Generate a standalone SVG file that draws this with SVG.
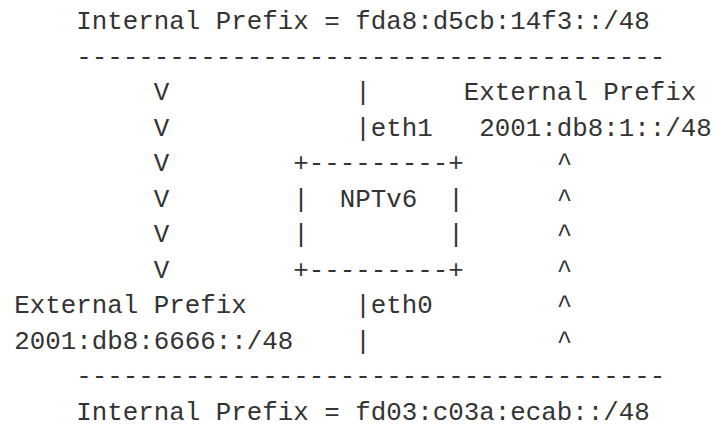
<svg xmlns="http://www.w3.org/2000/svg" width="720" height="427" viewBox="0 0 720 427" xml:space="preserve">
<style>
text { font-family: "Liberation Mono", "DejaVu Sans Mono", monospace; font-size: 25.83px; fill: #333; white-space: pre; }
</style>
<rect width="720" height="427" fill="#fff"/>
<g id="internal-top">
<text x="76.25" y="29">Internal Prefix = fda8:d5cb:14f3::/48</text>
<text x="76.25" y="64.5">--------------------------------------</text>
</g>
<g id="internal-bottom">
<text x="76.25" y="384">--------------------------------------</text>
<text x="76.25" y="419.5">Internal Prefix = fd03:c03a:ecab::/48</text>
</g>
<g id="external-eth1">
<text x="463.75" y="100">External Prefix</text>
<text x="479.25" y="135.5">2001:db8:1::/48</text>
</g>
<g id="external-eth0">
<text x="14.25" y="313">External Prefix</text>
<text x="14.25" y="348.5">2001:db8:6666::/48</text>
</g>
<g id="nptv6">
<text x="293.25" y="171">+---------+</text>
<text x="293.25" y="206.5">|</text>
<text x="339.75" y="206.5">NPTv6</text>
<text x="448.25" y="206.5">|</text>
<text x="293.25" y="242">|</text>
<text x="448.25" y="242">|</text>
<text x="293.25" y="277.5">+---------+</text>
</g>
<g id="connectors">
<text x="355.25" y="100">|</text>
<text x="355.25" y="135.5">|eth1</text>
<text x="355.25" y="313">|eth0</text>
<text x="355.25" y="348.5">|</text>
<text x="153.75" y="100">V</text>
<text x="153.75" y="135.5">V</text>
<text x="153.75" y="171">V</text>
<text x="153.75" y="206.5">V</text>
<text x="153.75" y="242">V</text>
<text x="153.75" y="277.5">V</text>
<text x="556.75" y="171">^</text>
<text x="556.75" y="206.5">^</text>
<text x="556.75" y="242">^</text>
<text x="556.75" y="277.5">^</text>
<text x="556.75" y="313">^</text>
<text x="556.75" y="348.5">^</text>
</g>
</svg>
